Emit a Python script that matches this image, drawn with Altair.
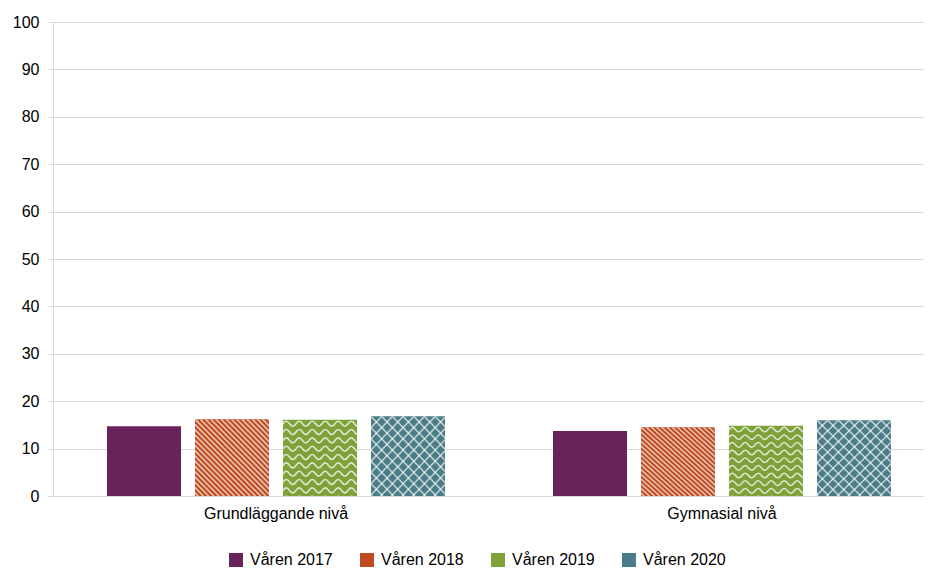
import base64
import altair as alt
import pandas as pd

# ---------------- data ----------------
categories = ["Grundläggande nivå", "Gymnasial nivå"]
years = ["Våren 2017", "Våren 2018", "Våren 2019", "Våren 2020"]
values_grund = [14.7, 16.2, 16.1, 16.8]
values_gym = [13.7, 14.5, 14.8, 16.0]
y_ticks = [0, 10, 20, 30, 40, 50, 60, 70, 80, 90, 100]

rows = []
for cat, vals in zip(categories, [values_grund, values_gym]):
    for yr, v in zip(years, vals):
        rows.append({"kategori": cat, "ar": yr, "varde": v})
df = pd.DataFrame(rows)

# ---------------- style ----------------
colors = ["#68245A", "#BF4A1E", "#7EA23A", "#4B7D88"]
PW, PH = 74, 76  # pattern drawing size (stretched onto each bar)


def svg_uri(body, stroke_w, opacity):
    svg = (
        f'<svg xmlns="http://www.w3.org/2000/svg" width="{PW}" height="{PH}" '
        f'viewBox="0 0 {PW} {PH}"><g fill="none" stroke="#ffffff" '
        f'stroke-width="{stroke_w}" stroke-opacity="{opacity}">{body}</g></svg>'
    )
    return "data:image/svg+xml;base64," + base64.b64encode(svg.encode()).decode()


def stripes():
    period = 5.2
    parts = []
    for k in range(-20, 20):
        x0 = k * period
        parts.append(f'<line x1="{x0}" y1="0" x2="{x0 + PH}" y2="{PH}"/>')
    return svg_uri("".join(parts), 1.7, 0.65)


def waves():
    period, spacing, amp = 13.0, 8.3, 5.0
    parts = []
    for r in range(-1, 11):
        y = r * spacing + 4
        d = f"M{-period},{y}"
        x = -period
        sign = -1
        while x < PW + period:
            d += f" Q{x + period / 4},{y + sign * amp} {x + period / 2},{y}"
            x += period / 2
            sign = -sign
        parts.append(f'<path d="{d}"/>')
    return svg_uri("".join(parts), 1.6, 0.75)


def lattice():
    cell = 10.7
    parts = []
    for k in range(-12, 16):
        x0 = k * cell
        parts.append(f'<line x1="{x0}" y1="0" x2="{x0 + PH}" y2="{PH}"/>')
        parts.append(f'<line x1="{x0}" y1="0" x2="{x0 - PH}" y2="{PH}"/>')
    return svg_uri("".join(parts), 1.5, 0.65)


pattern_uris = [stripes(), waves(), lattice()]

x_enc = alt.X(
    "kategori:N",
    sort=categories,
    scale=alt.Scale(paddingInner=0.1928, paddingOuter=0.0729, align=0.6615),
    axis=alt.Axis(
        title=None, labelAngle=0, ticks=False, tickSize=0, labelPadding=9,
        labelFontSize=16, labelColor="#000000", domainColor="#d9d9d9",
    ),
)
xoff_enc = alt.XOffset(
    "ar:N", sort=years,
    scale=alt.Scale(domain=years, paddingInner=0.1591, paddingOuter=0.125),
)
y_enc = alt.Y(
    "varde:Q",
    scale=alt.Scale(domain=[0, 100], nice=False),
    axis=alt.Axis(
        values=y_ticks, title=None, labelFontSize=16, labelColor="#000000",
        labelPadding=9, tickSize=5, tickColor="#d9d9d9", domainColor="#d9d9d9",
        gridColor="#d9d9d9", grid=True,
    ),
)

bars = alt.Chart(df).mark_bar().encode(
    x=x_enc,
    xOffset=xoff_enc,
    y=y_enc,
    color=alt.Color(
        "ar:N",
        scale=alt.Scale(domain=years, range=colors),
        legend=alt.Legend(
            title=None, orient="none", legendX=175, legendY=530,
            direction="horizontal", symbolType="square", symbolSize=196,
            symbolStrokeWidth=0, labelFontSize=16, labelColor="#000000",
            labelOffset=6, columnPadding=26, padding=0,
        ),
    ),
)

img_layers = []
for yr, uri in zip(years[1:], pattern_uris):
    img_layers.append(
        alt.Chart(df)
        .transform_filter(alt.datum.ar == yr)
        .mark_image(aspect=False)
        .encode(
            x=x_enc,
            xOffset=xoff_enc,
            y=y_enc,
            y2=alt.datum(0),
            url=alt.value(uri),
        )
    )

chart = (
    alt.layer(bars, *img_layers)
    .properties(
        width=871,
        height=474,
        autosize=alt.AutoSizeParams(type="none"),
        padding={"left": 45, "top": 14, "right": 0, "bottom": 73},
    )
    .configure(font="Liberation Sans")
    .configure_view(stroke=None)
)

chart.save("out.html", embed_options={"renderer": "svg", "actions": False})
